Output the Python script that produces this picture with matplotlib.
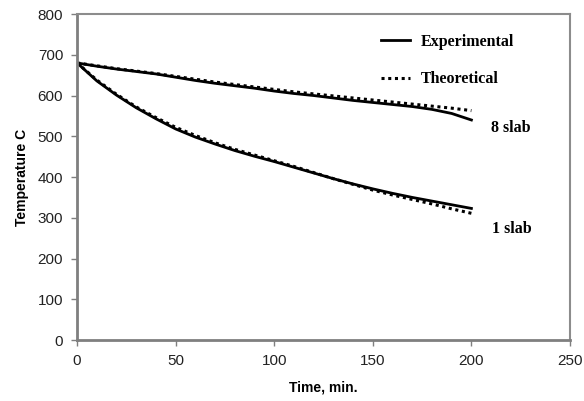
import matplotlib.pyplot as plt

# time, min.
time = [0, 10, 20, 30, 40, 50, 60, 70, 80, 90, 100,
        110, 120, 130, 140, 150, 160, 170, 180, 190, 200]

exp_8slab = [680, 672, 665, 659, 653, 645, 637, 630, 624, 618, 611,
             605, 600, 594, 588, 583, 578, 573, 566, 556, 540]
theo_8slab = [680, 673, 666, 660, 654, 647, 640, 633, 627, 621, 615,
              609, 604, 599, 594, 589, 584, 579, 574, 569, 563]
exp_1slab = [680, 636, 601, 570, 543, 518, 498, 481, 465, 451, 438,
             424, 410, 396, 383, 371, 360, 350, 341, 332, 323]
theo_1slab = [680, 638, 603, 572, 546, 522, 502, 484, 468, 454, 440,
              426, 411, 396, 382, 368, 356, 345, 334, 322, 311]

serif = ["Liberation Serif", "DejaVu Serif"]
sans = ["Liberation Sans", "DejaVu Sans"]

fig = plt.figure(figsize=(5.84, 4.01), dpi=100)
ax = fig.add_axes([0.132, 0.152, 0.844, 0.813])

ax.plot(time, exp_8slab, color="black", lw=2.0, label="Experimental")
ax.plot(time, theo_8slab, color="black", lw=2.2, ls=(0, (1, 1.2)), label="Theoretical")
ax.plot(time, exp_1slab, color="black", lw=2.0)
ax.plot(time, theo_1slab, color="black", lw=2.2, ls=(0, (1, 1.2)))

ax.text(220, 520, "8 slab", fontfamily=serif, fontweight="bold", fontsize=11.5,
        ha="center", va="center")
ax.text(220.5, 272, "1 slab", fontfamily=serif, fontweight="bold", fontsize=11.5,
        ha="center", va="center")

leg = ax.legend(loc="upper left", bbox_to_anchor=(0.617, 0.94), frameon=False,
                borderpad=0, borderaxespad=0, handlelength=1.8, handletextpad=0.65,
                labelspacing=1.35, prop={"family": serif, "weight": "bold", "size": 11.5})

ax.set_xlim(0, 250)
ax.set_ylim(0, 800)
ax.set_xticks(range(0, 251, 50))
ax.set_yticks(range(0, 801, 100))

for side in ["left", "bottom"]:
    ax.spines[side].set_color("#7f7f7f")
    ax.spines[side].set_linewidth(2.0)
for side in ["top", "right"]:
    ax.spines[side].set_color("#8c8c8c")
    ax.spines[side].set_linewidth(1.5)

ax.tick_params(direction="out", length=4, width=1, color="#7f7f7f",
               labelsize=11, pad=6)
for lbl in ax.get_xticklabels() + ax.get_yticklabels():
    lbl.set_fontfamily(sans)
    lbl.set_color("#222222")

ax.set_xlabel("Time, min.", fontfamily=sans, fontweight="bold", fontsize=10, labelpad=9)
ax.set_ylabel("Temperature C", fontfamily=sans, fontweight="bold", fontsize=10, labelpad=6)

fig.savefig("out.png", dpi=100)
